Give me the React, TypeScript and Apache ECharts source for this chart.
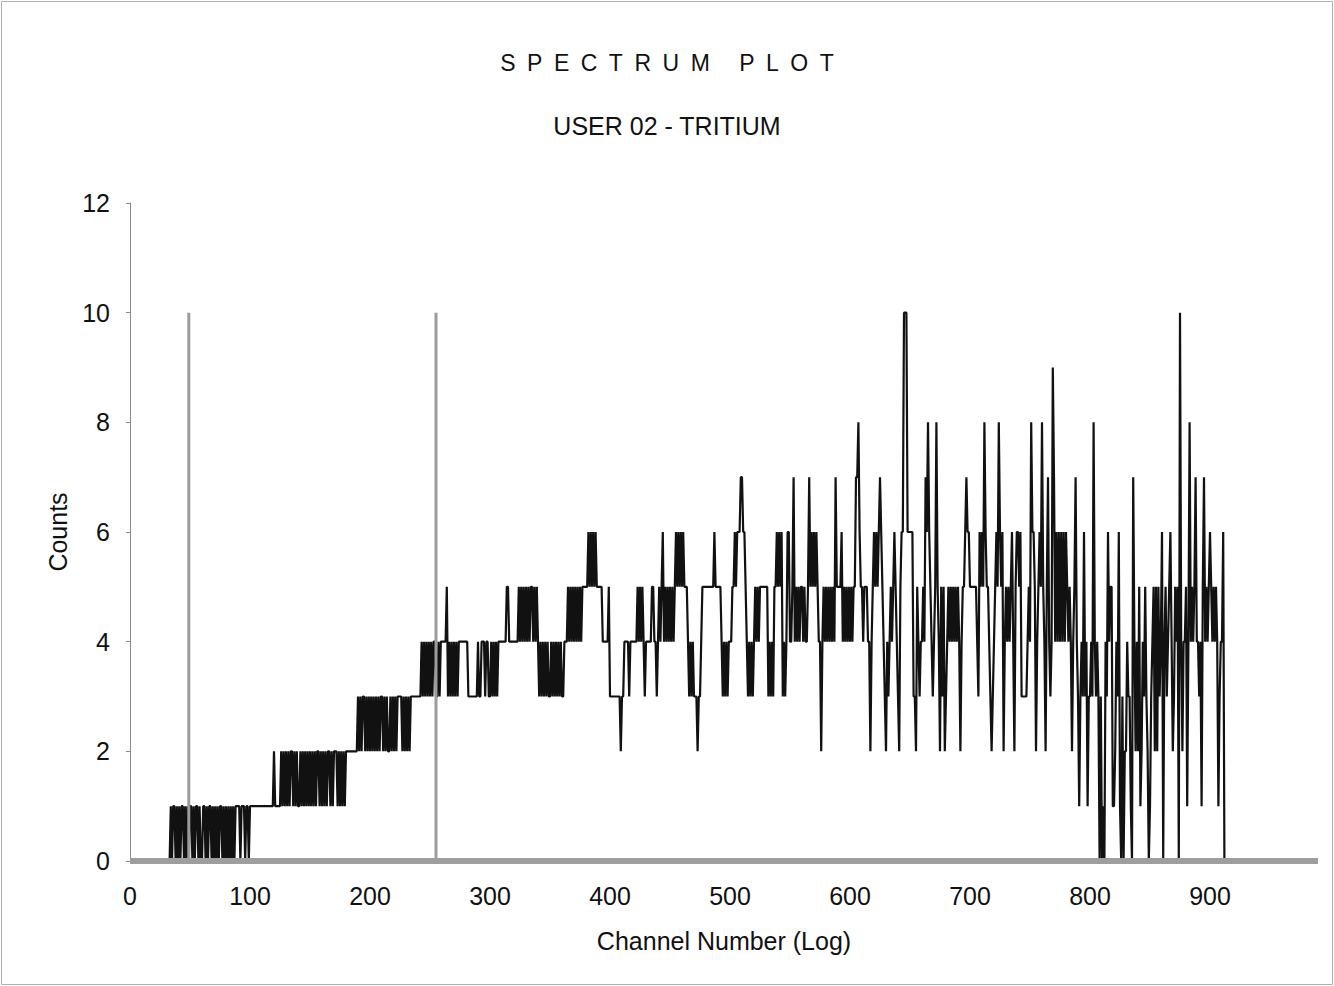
import React, { useEffect, useRef } from "react";
import * as echarts from "echarts";

// Counts per channel, one hex digit per channel (A = 10), channel index = position.
const counts000 =
  "0000000000" + "0000000000" + "0000000000" + "0000101101" + "0101101010" +
  "1101011010" + "0110101101" + "0101011010" + "1010101011" + "1101110110";
const counts100 =
  "1111111111" + "1111111111" + "2111112121" + "2121221212" + "1121212121" +
  "2121212212" + "1212122121" + "2221212121" + "2222222222" + "3232332323";
const counts200 =
  "2323232323" + "3232322323" + "2323333232" + "3232333333" + "3334343434" +
  "3434433434" + "4444534343" + "4343444444" + "4433333333" + "4334443443";
const counts300 =
  "3434343444" + "4444554444" + "4444545454" + "5454554545" + "4343434343" +
  "3434343434" + "3344454545" + "4545454555" + "5565656565" + "5555444445";
const counts400 =
  "3333333332" + "3344443444" + "4445454543" + "4444455443" + "4545645454" +
  "5454565656" + "5655543434" + "3332334555" + "5555555655" + "5554343434";
const counts500 =
  "4455656667" + "7665434343" + "4545455555" + "5534343556" + "5656343466" +
  "4457454545" + "5454457565" + "6565442454" + "5454545475" + "5556454545";
const counts600 =
  "4545577865" + "5455544245" + "6565676543" + "2434545654" + "32566AAA66" +
  "6663325434" + "4547686543" + "4585425352" + "3454545454" + "5424556766";
const counts700 =
  "5555554365" + "6586554323" + "4565865624" + "5454564256" + "6563333345" +
  "4866524565" + "8542574349" + "7464646464" + "6545424574" + "3134363413";
const counts800 =
  "3438434303" + "0104364551" + "1243610302" + "2433107424" + "2512435320" +
  "1345252534" + "6045345642" + "35450A4244" + "5148454574" + "4341574545";
const counts900 = "6545454134" + "460";

const countBlocks = [counts000, counts100, counts200, counts300, counts400, counts500, counts600, counts700, counts800, counts900];

// ROI marker channels and their height
const markerChannels = [49, 255];
const markerHeight = 10;

// Axis ticks
const xMin = 0;
const xMax = 990;
const xInterval = 100;
const yMin = 0;
const yMax = 12;
const yInterval = 2;

const titleText = "S\u2002P\u2002E\u2002C\u2002T\u2002R\u2002U\u2002M\u2002\u00A0\u2002P\u2002L\u2002O\u2002T";
const subtitleText = "USER 02 - TRITIUM";
const xName = "Channel Number (Log)";
const yName = "Counts";

const FONT = "Liberation Sans, Arial, Helvetica, sans-serif";

export default function App() {
  const ref = useRef<HTMLDivElement>(null);

  useEffect(() => {
    document.body.style.margin = "0";
    if (!ref.current) return;
    const chart = echarts.init(ref.current, null, { renderer: "svg" });

    const values: number[] = countBlocks.join("").split("").map((c) => parseInt(c, 16));
    const spectrum = values.map((v, i) => [i, v]);

    const markerSeries = markerChannels.map((m) => ({
      type: "line",
      data: [
        [m, 0],
        [m, markerHeight],
      ],
      showSymbol: false,
      silent: true,
      lineStyle: { color: "#9c9c9c", width: 3 },
      z: 4,
    }));

    chart.setOption({
      animation: false,
      backgroundColor: "#ffffff",
      title: [
        {
          text: titleText,
          left: "center",
          top: 46,
          textStyle: { fontFamily: FONT, fontSize: 23, fontWeight: "normal", color: "#111" },
        },
        {
          text: subtitleText,
          left: "center",
          top: 108,
          textStyle: { fontFamily: FONT, fontSize: 25, fontWeight: "normal", color: "#111" },
        },
      ],
      graphic: [
        {
          type: "rect",
          shape: { x: 1.5, y: 1.5, width: 1331, height: 983 },
          style: { fill: "none", stroke: "#b0b0b0", lineWidth: 1 },
          silent: true,
        },
      ],
      grid: { left: 130, right: 16, top: 203, bottom: 125, containLabel: false },
      xAxis: {
        type: "value",
        min: xMin,
        max: xMax,
        interval: xInterval,
        z: 10,
        name: xName,
        nameLocation: "middle",
        nameGap: 67,
        nameTextStyle: { fontFamily: FONT, fontSize: 25, color: "#111" },
        axisLine: { show: true, onZero: false, lineStyle: { color: "#9e9e9e", width: 6, cap: "butt" } },
        axisTick: { show: false },
        axisLabel: {
          fontFamily: FONT,
          fontSize: 25,
          color: "#111",
          margin: 22,
          showMaxLabel: false,
        },
        splitLine: { show: false },
      },
      yAxis: {
        type: "value",
        min: yMin,
        max: yMax,
        interval: yInterval,
        name: yName,
        nameLocation: "middle",
        nameRotate: 90,
        nameGap: 60,
        nameTextStyle: { fontFamily: FONT, fontSize: 25, color: "#111" },
        axisLine: { show: true, lineStyle: { color: "#8a8a8a", width: 1 } },
        axisTick: { show: true, length: 4, lineStyle: { color: "#8a8a8a" } },
        axisLabel: { fontFamily: FONT, fontSize: 25, color: "#111", margin: 20 },
        splitLine: { show: false },
      },
      series: [
        {
          type: "line",
          data: spectrum,
          showSymbol: false,
          silent: true,
          lineStyle: { color: "#111", width: 2.2 },
          z: 2,
        },
        ...markerSeries,
      ],
    });

    return () => chart.dispose();
  }, []);

  return <div ref={ref} style={{ width: 1334, height: 986 }} />;
}
